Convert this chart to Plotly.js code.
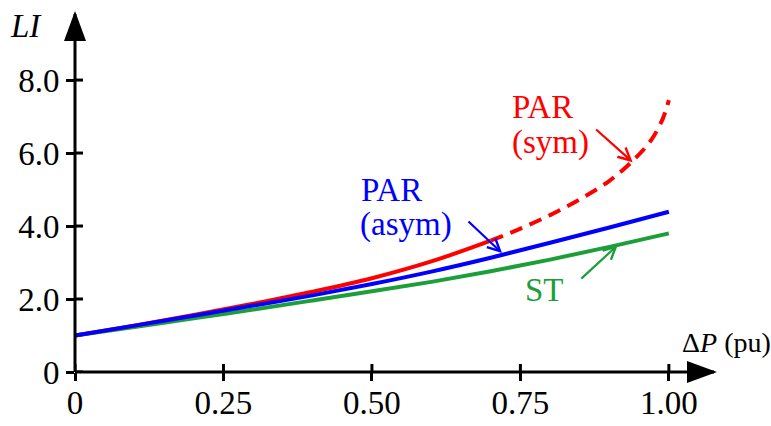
<!DOCTYPE html>
<html><head><meta charset="utf-8">
<script src="https://cdn.plot.ly/plotly-3.0.1.min.js"></script>
<style>html,body{margin:0;padding:0;background:#fff;}#chart{width:771px;height:426px;}</style>
</head><body><div id="chart"></div>
<script>
// Data
const xGrid = [0, 0.1, 0.2, 0.3, 0.4, 0.5, 0.6, 0.7, 0.8, 0.9, 1.0];
const liST = [1.00, 1.23, 1.47, 1.71, 1.96, 2.21, 2.47, 2.76, 3.08, 3.43, 3.80];
const liParAsym = [1.00, 1.27, 1.54, 1.82, 2.10, 2.41, 2.75, 3.13, 3.54, 3.96, 4.39];
const xParSymSolid = [0, 0.1, 0.2, 0.3, 0.4, 0.5, 0.6, 0.7];
const liParSymSolid = [1.00, 1.27, 1.56, 1.87, 2.20, 2.57, 3.03, 3.60];
const xParSymDash = [0.7, 0.75, 0.8, 0.85, 0.9, 0.94, 0.97, 0.99, 1.0];
const liParSymDash = [3.60, 3.93, 4.30, 4.73, 5.24, 5.80, 6.35, 6.95, 7.45];

const xTickVals = [0, 0.25, 0.5, 0.75, 1.0];
const xTickText = ['0', '0.25', '0.50', '0.75', '1.00'];
const yTickVals = [0, 2, 4, 6, 8];
const yTickText = ['0', '2.0', '4.0', '6.0', '8.0'];

const RED = '#ff0000', BLUE = '#0000ff', GREEN = '#1c9e3a';
const FONT = '"Liberation Serif", "Times New Roman", "DejaVu Serif", serif';
const FS = 33;

const traces = [
  {x: xGrid, y: liST, mode: 'lines', line: {color: GREEN, width: 4, shape: 'spline'}, name: 'ST'},
  {x: xParSymSolid, y: liParSymSolid, mode: 'lines', line: {color: RED, width: 4, shape: 'spline'}, name: 'PAR (sym)'},
  {x: xParSymDash, y: liParSymDash, mode: 'lines', line: {color: RED, width: 4, dash: '13px,8px', shape: 'spline'}, name: 'PAR (sym)'},
  {x: xGrid, y: liParAsym, mode: 'lines', line: {color: BLUE, width: 4, shape: 'spline'}, name: 'PAR (asym)'}
];

const shapes = [];
// axis lines
shapes.push({type: 'line', xref: 'paper', yref: 'paper', x0: 0, x1: 1, y0: 0, y1: 0, line: {color: 'black', width: 3}});
shapes.push({type: 'line', xref: 'paper', yref: 'paper', x0: 0, x1: 0, y0: 0, y1: 1, line: {color: 'black', width: 3}});
// arrowheads
shapes.push({type: 'path', xref: 'paper', yref: 'paper', xsizemode: 'pixel', ysizemode: 'pixel', xanchor: 1, yanchor: 0,
  path: 'M3,0 L-27,-11 L-27,11 Z', fillcolor: 'black', line: {width: 0}});
shapes.push({type: 'path', xref: 'paper', yref: 'paper', xsizemode: 'pixel', ysizemode: 'pixel', xanchor: 0, yanchor: 1,
  path: 'M0,3 L-11,-27 L11,-27 Z', fillcolor: 'black', line: {width: 0}});
// inner halves of tick marks (clipped to plot area)
xTickVals.forEach(v => shapes.push({type: 'line', xref: 'x', yref: 'y', x0: v, x1: v, ysizemode: 'pixel', yanchor: 0, y0: 0, y1: 8, line: {color: 'black', width: 3}}));
yTickVals.forEach(v => shapes.push({type: 'line', xref: 'x', yref: 'y', y0: v, y1: v, xsizemode: 'pixel', xanchor: 0, x0: 0, x1: 8, line: {color: 'black', width: 3}}));

function txt(text, x, y, color, size) {
  return {text: text, x: x, y: y, xref: 'x', yref: 'y', showarrow: false, xanchor: 'left', yanchor: 'middle',
    font: {family: FONT, size: size || FS, color: color}};
}
function arr(x, y, ax, ay, color) {
  return {text: '', x: x, y: y, xref: 'x', yref: 'y', ax: ax, ay: ay, showarrow: true, arrowhead: 5, arrowsize: 1.1,
    arrowwidth: 2.2, arrowcolor: color, standoff: 0};
}

const annotations = [
  txt('PAR', 0.733, 7.25, RED),
  txt('(sym)', 0.733, 6.3, RED),
  arr(0.939, 5.75, -38, -34, RED),
  txt('PAR', 0.478, 5.0, BLUE),
  txt('(asym)', 0.476, 4.05, BLUE),
  arr(0.719, 3.26, -35, -33, BLUE),
  txt('ST', 0.755, 2.25, GREEN),
  arr(0.914, 3.48, -38, 35, GREEN),
  txt('Δ<i>P</i> (pu)', 1.018, 0.8, 'black', 28),
  {text: '<i>LI</i>', xref: 'paper', yref: 'paper', x: 0, y: 1, xanchor: 'right', yanchor: 'middle', xshift: -31, yshift: -12,
    showarrow: false, font: {family: FONT, size: FS, color: 'black'}}
];

const layout = {
  width: 771, height: 426,
  margin: {l: 75, r: 57, t: 14, b: 54},
  paper_bgcolor: '#fff', plot_bgcolor: '#fff',
  showlegend: false,
  font: {family: FONT, size: FS, color: 'black'},
  xaxis: {range: [0, 1.076], tickvals: xTickVals, ticktext: xTickText, showgrid: false, zeroline: false, showline: false,
    ticks: 'outside', ticklen: 8, tickwidth: 3, tickcolor: 'black', tickfont: {family: FONT, size: FS}, fixedrange: true,
    ticklabelstandoff: -7},
  yaxis: {range: [0, 9.81], tickvals: yTickVals, ticktext: yTickText, showgrid: false, zeroline: false, showline: false,
    ticks: 'outside', ticklen: 8, tickwidth: 3, tickcolor: 'black', tickfont: {family: FONT, size: FS}, fixedrange: true},
  shapes: shapes,
  annotations: annotations
};

Plotly.newPlot('chart', traces, layout, {staticPlot: true, displayModeBar: false});
</script>
</body></html>
